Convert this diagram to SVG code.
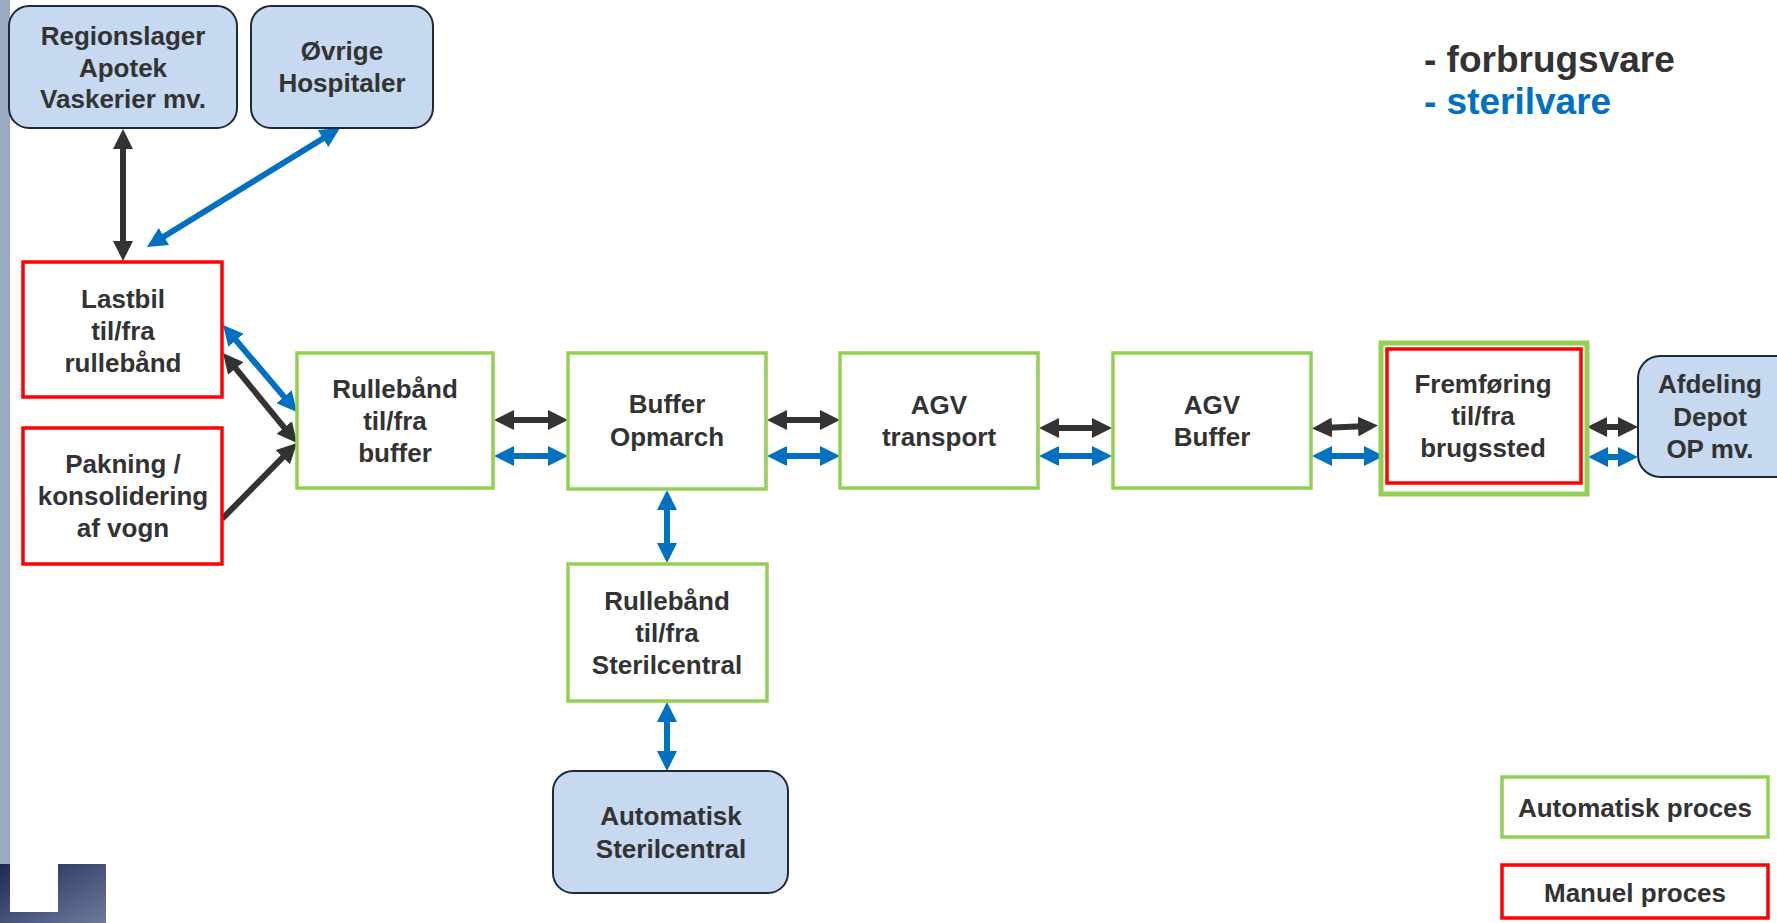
<svg xmlns="http://www.w3.org/2000/svg" width="1777" height="923" viewBox="0 0 1777 923">
<defs>
<style>
.t{font-family:"Liberation Sans",Arial,sans-serif;font-weight:bold;font-size:26px;fill:#333;text-anchor:middle}
.ext{fill:#C6D9F0;stroke:#1E2A38;stroke-width:2}
.auto{fill:#fff;stroke:#92D050;stroke-width:3.5}
.man{fill:#fff;stroke:#FF0000;stroke-width:3.5}
.bk{stroke:#333;stroke-width:6;fill:none}
.bl{stroke:#0070C0;stroke-width:6;fill:none}
.leg{font-family:"Liberation Sans",Arial,sans-serif;font-weight:bold;font-size:37px}
</style>
<marker id="ak" markerUnits="userSpaceOnUse" markerWidth="20" markerHeight="20" refX="10" refY="10" orient="auto-start-reverse" viewBox="0 0 20 20"><path d="M0,0 L20,10 L0,20 z" fill="#333"/></marker>
<marker id="ab" markerUnits="userSpaceOnUse" markerWidth="20" markerHeight="20" refX="10" refY="10" orient="auto-start-reverse" viewBox="0 0 20 20"><path d="M0,0 L20,10 L0,20 z" fill="#0070C0"/></marker>
<linearGradient id="g" x1="0" y1="0" x2="1" y2="1"><stop offset="0" stop-color="#1E2A55"/><stop offset="1" stop-color="#6E7A9C"/></linearGradient>
</defs>
<rect width="1777" height="923" fill="#fff"/>
<g id="decor">
<rect x="0" y="0" width="10" height="864" fill="#9AAAC0"/>
<rect x="0" y="864" width="106" height="59" fill="url(#g)"/>
<rect x="10" y="864" width="48" height="48" fill="#fff"/>
</g>
<g id="connectors">
<path class="bk" d="M123,139 L123,251" marker-start="url(#ak)" marker-end="url(#ak)"/>
<path class="bl" d="M331.5,133.3 L155.5,241.8" marker-start="url(#ab)" marker-end="url(#ab)"/>
<path class="bl" d="M229.5,332.6 L290.5,404.4" marker-start="url(#ab)" marker-end="url(#ab)"/>
<path class="bk" d="M229.4,360.7 L290.6,435.3" marker-start="url(#ak)" marker-end="url(#ak)"/>
<path class="bk" d="M222,519 L289.9,450.1" marker-end="url(#ak)"/>
<path class="bk" d="M504,420 L558,420" marker-start="url(#ak)" marker-end="url(#ak)"/>
<path class="bl" d="M504,456 L558,456" marker-start="url(#ab)" marker-end="url(#ab)"/>
<path class="bk" d="M777,420 L830,420" marker-start="url(#ak)" marker-end="url(#ak)"/>
<path class="bl" d="M777,456 L830,456" marker-start="url(#ab)" marker-end="url(#ab)"/>
<path class="bk" d="M1049,428 L1102,428" marker-start="url(#ak)" marker-end="url(#ak)"/>
<path class="bl" d="M1049,456 L1102,456" marker-start="url(#ab)" marker-end="url(#ab)"/>
<path class="bk" d="M1322,428 L1368,426" marker-start="url(#ak)" marker-end="url(#ak)"/>
<path class="bl" d="M1322,456 L1374,456" marker-start="url(#ab)" marker-end="url(#ab)"/>
<path class="bk" d="M1597,427 L1628,427" marker-start="url(#ak)" marker-end="url(#ak)"/>
<path class="bl" d="M1598,457 L1628,457" marker-start="url(#ab)" marker-end="url(#ab)"/>
<path class="bl" d="M667,500 L667,553" marker-start="url(#ab)" marker-end="url(#ab)"/>
<path class="bl" d="M667,712 L667,761" marker-start="url(#ab)" marker-end="url(#ab)"/>
</g>
<g id="regionslager">
<rect class="ext" x="9" y="6" width="228" height="122" rx="20"/>
<text class="t" x="123" y="45">Regionslager</text>
<text class="t" x="123" y="77">Apotek</text>
<text class="t" x="123" y="108">Vaskerier mv.</text>
</g>
<g id="ovrige">
<rect class="ext" x="251" y="6" width="182" height="122" rx="20"/>
<text class="t" x="342" y="60">Øvrige</text>
<text class="t" x="342" y="92">Hospitaler</text>
</g>
<g id="lastbil">
<rect class="man" x="23" y="262" width="199" height="135"/>
<text class="t" x="123" y="308">Lastbil</text>
<text class="t" x="123" y="340">til/fra</text>
<text class="t" x="123" y="372">rullebånd</text>
</g>
<g id="pakning">
<rect class="man" x="23" y="428" width="199" height="136"/>
<text class="t" x="123" y="473">Pakning /</text>
<text class="t" x="123" y="505">konsolidering</text>
<text class="t" x="123" y="537">af vogn</text>
</g>
<g id="rullebaand">
<rect class="auto" x="297" y="353" width="196" height="135"/>
<text class="t" x="395" y="398">Rullebånd</text>
<text class="t" x="395" y="430">til/fra</text>
<text class="t" x="395" y="462">buffer</text>
</g>
<g id="buffer-opmarch">
<rect class="auto" x="568" y="353" width="198" height="136"/>
<text class="t" x="667" y="413">Buffer</text>
<text class="t" x="667" y="446">Opmarch</text>
</g>
<g id="agv-transport">
<rect class="auto" x="840" y="353" width="198" height="135"/>
<text class="t" x="939" y="414">AGV</text>
<text class="t" x="939" y="446">transport</text>
</g>
<g id="agv-buffer">
<rect class="auto" x="1113" y="353" width="198" height="135"/>
<text class="t" x="1212" y="414">AGV</text>
<text class="t" x="1212" y="446">Buffer</text>
</g>
<g id="fremforing">
<rect x="1381" y="343" width="206" height="151" fill="#fff" stroke="#92D050" stroke-width="5"/>
<rect x="1387" y="349" width="194" height="134" fill="none" stroke="#FF0000" stroke-width="3.5"/>
<text class="t" x="1483" y="393">Fremføring</text>
<text class="t" x="1483" y="425">til/fra</text>
<text class="t" x="1483" y="457">brugssted</text>
</g>
<g id="afdeling">
<rect class="ext" x="1638" y="356" width="160" height="121" rx="22"/>
<text class="t" x="1710" y="393">Afdeling</text>
<text class="t" x="1710" y="426">Depot</text>
<text class="t" x="1710" y="458">OP mv.</text>
</g>
<g id="rullebaand-steril">
<rect class="auto" x="568" y="564" width="199" height="137"/>
<text class="t" x="667" y="610">Rullebånd</text>
<text class="t" x="667" y="642">til/fra</text>
<text class="t" x="667" y="674">Sterilcentral</text>
</g>
<g id="automatisk-steril">
<rect class="ext" x="553" y="771" width="235" height="122" rx="20"/>
<text class="t" x="671" y="825">Automatisk</text>
<text class="t" x="671" y="858">Sterilcentral</text>
</g>
<g id="legend">
<text class="leg" x="1424" y="72" fill="#333">- forbrugsvare</text>
<text class="leg" x="1424" y="114" fill="#0070C0">- sterilvare</text>
<g id="legend-auto">
<rect class="auto" x="1502" y="777" width="266" height="60"/>
<text class="t" x="1635" y="817">Automatisk proces</text>
</g>
<g id="legend-man">
<rect class="man" x="1502" y="865" width="266" height="53"/>
<text class="t" x="1635" y="902">Manuel proces</text>
</g>
</g>
</svg>
